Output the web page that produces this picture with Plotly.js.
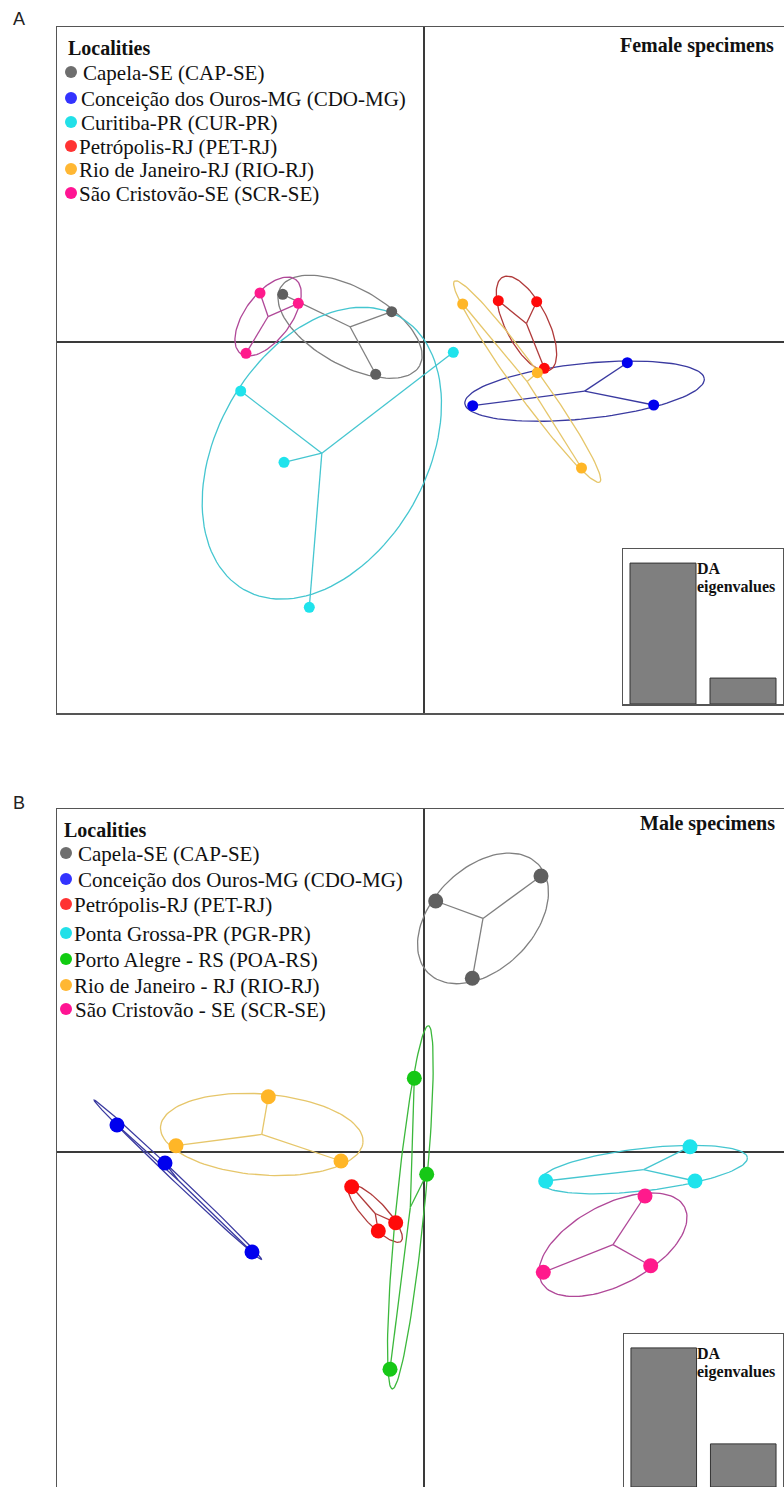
<!DOCTYPE html>
<html>
<head>
<meta charset="utf-8">
<script src="https://cdn.plot.ly/plotly-3.0.1.min.js"></script>
<style>html,body{margin:0;padding:0;background:#fff;}#chart{width:784px;height:1487px;}</style>
</head>
<body>
<div id="chart"></div>
<script>
// ---------------- Panel A: female specimens (DA scores: LD1, LD2) ----------------
const femaleGroups = ["CAP-SE", "CDO-MG", "CUR-PR", "PET-RJ", "RIO-RJ", "SCR-SE"];
const femaleLegend = ["Capela-SE (CAP-SE)", "Conceição dos Ouros-MG (CDO-MG)", "Curitiba-PR (CUR-PR)",
                      "Petrópolis-RJ (PET-RJ)", "Rio de Janeiro-RJ (RIO-RJ)", "São Cristovão-SE (SCR-SE)"];
const fCAP_x = [-1.413, -0.323, -0.483];          const fCAP_y = [0.477, 0.303, -0.323];
const fCDO_x = [0.487, 2.033, 2.297];             const fCDO_y = [-0.637, -0.207, -0.630];
const fCUR_x = [-1.833, -1.400, -1.147, 0.293];   const fCUR_y = [-0.490, -1.203, -2.653, -0.103];
const fPET_x = [0.743, 1.127, 1.203];             const fPET_y = [0.413, 0.403, -0.263];
const fRIO_x = [0.387, 1.133, 1.575];             const fRIO_y = [0.380, -0.307, -1.260];
const fSCR_x = [-1.640, -1.257, -1.780];          const fSCR_y = [0.490, 0.387, -0.113];
const femaleEigen = [1.0, 0.184];

// ---------------- Panel B: male specimens ----------------
const maleGroups = ["CAP-SE", "CDO-MG", "PET-RJ", "PGR-PR", "POA-RS", "RIO-RJ", "SCR-SE"];
const maleLegend = ["Capela-SE (CAP-SE)", "Conceição dos Ouros-MG (CDO-MG)", "Petrópolis-RJ (PET-RJ)",
                    "Ponta Grossa-PR (PGR-PR)", "Porto Alegre - RS (POA-RS)", "Rio de Janeiro - RJ (RIO-RJ)",
                    "São Cristovão - SE (SCR-SE)"];
const mCAP_x = [0.117, 1.170, 0.483];     const mCAP_y = [2.510, 2.760, 1.737];
const mCDO_x = [-3.070, -2.590, -1.720];  const mCDO_y = [0.270, -0.110, -1.000];
const mPET_x = [-0.723, -0.457, -0.283];  const mPET_y = [-0.347, -0.790, -0.707];
const mPGR_x = [2.660, 1.217, 2.710];     const mPGR_y = [0.053, -0.290, -0.290];
const mPOA_x = [-0.097, 0.027, -0.340];   const mPOA_y = [0.737, -0.223, -2.173];
const mRIO_x = [-1.557, -2.480, -0.830];  const mRIO_y = [0.553, 0.063, -0.090];
const mSCR_x = [2.210, 1.193, 2.267];     const mSCR_y = [-0.440, -1.203, -1.137];
const maleEigen = [1.0, 0.31];
const eigenLabels = ["DA1", "DA2"];

// ---------------- colours ----------------
const col = {
  "CAP-SE": {pt: "#5f5f5f", ln: "#808080", lg: "#6e6e6e"},
  "CDO-MG": {pt: "#0000ee", ln: "#3a3aa0", lg: "#3333ff"},
  "CUR-PR": {pt: "#1fe3ec", ln: "#45c6d0", lg: "#22e0e8"},
  "PGR-PR": {pt: "#1fe3ec", ln: "#45c6d0", lg: "#22e0e8"},
  "PET-RJ": {pt: "#ff0a0a", ln: "#b03a3a", lg: "#ff3333"},
  "RIO-RJ": {pt: "#ffb627", ln: "#e6c66a", lg: "#ffb733"},
  "SCR-SE": {pt: "#ff1a8c", ln: "#b04898", lg: "#ff1493"},
  "POA-RS": {pt: "#16c816", ln: "#3cb83c", lg: "#11cc11"}
};

const femaleData = [[fCAP_x, fCAP_y], [fCDO_x, fCDO_y], [fCUR_x, fCUR_y], [fPET_x, fPET_y], [fRIO_x, fRIO_y], [fSCR_x, fSCR_y]];
const maleData = [[mCAP_x, mCAP_y], [mCDO_x, mCDO_y], [mPET_x, mPET_y], [mPGR_x, mPGR_y], [mPOA_x, mPOA_y], [mRIO_x, mRIO_y], [mSCR_x, mSCR_y]];

function mean(a) { return a.reduce((s, v) => s + v, 0) / a.length; }

// inertia ellipse as in ade4::s.class (cellipse = 1.5)
function ellipse(xs, ys, coef) {
  const n = xs.length, mx = mean(xs), my = mean(ys);
  let vx = 0, vy = 0, cxy = 0;
  for (let i = 0; i < n; i++) {
    const dx = xs[i] - mx, dy = ys[i] - my;
    vx += dx * dx / n; vy += dy * dy / n; cxy += dx * dy / n;
  }
  const tr = vx + vy, det = vx * vy - cxy * cxy;
  const disc = Math.sqrt(Math.max(tr * tr / 4 - det, 0));
  const l1 = tr / 2 + disc, l2 = Math.max(tr / 2 - disc, 0);
  let ex, ey;
  if (Math.abs(cxy) > 1e-12) { ex = l1 - vy; ey = cxy; }
  else if (vx >= vy) { ex = 1; ey = 0; } else { ex = 0; ey = 1; }
  const nr = Math.hypot(ex, ey); ex /= nr; ey /= nr;
  const a = coef * Math.sqrt(l1), b = coef * Math.sqrt(l2);
  const X = [], Y = [];
  for (let k = 0; k <= 120; k++) {
    const t = 2 * Math.PI * k / 120, c = Math.cos(t), s = Math.sin(t);
    X.push(mx + a * c * ex - b * s * ey);
    Y.push(my + a * c * ey + b * s * ex);
  }
  return {X, Y};
}

function panelTraces(groups, data, xa, ya, msize) {
  const lines = [], pts = [];
  groups.forEach((g, i) => {
    const xs = data[i][0], ys = data[i][1];
    const e = ellipse(xs, ys, 1.5);
    lines.push({x: e.X, y: e.Y, xaxis: xa, yaxis: ya, mode: "lines", type: "scatter",
      line: {color: col[g].ln, width: 1.3}, hoverinfo: "skip", showlegend: false});
    const mx = mean(xs), my = mean(ys), sx = [], sy = [];
    xs.forEach((x, j) => { sx.push(mx, x, null); sy.push(my, ys[j], null); });
    lines.push({x: sx, y: sy, xaxis: xa, yaxis: ya, mode: "lines", type: "scatter",
      line: {color: col[g].ln, width: 1.3}, hoverinfo: "skip", showlegend: false});
    pts.push({x: xs, y: ys, xaxis: xa, yaxis: ya, mode: "markers", type: "scatter", name: g,
      marker: {color: col[g].pt, size: msize, line: {width: 0}}, showlegend: false});
  });
  return lines.concat(pts);
}

const traces = []
  .concat(panelTraces(femaleGroups, femaleData, "x", "y", 11))
  .concat(panelTraces(maleGroups, maleData, "x2", "y2", 15));

traces.push({type: "bar", x: eigenLabels, y: femaleEigen, xaxis: "x3", yaxis: "y3", width: 0.825,
  marker: {color: "#7f7f7f", line: {color: "#333", width: 1}}, hoverinfo: "skip", showlegend: false});
traces.push({type: "bar", x: eigenLabels, y: maleEigen, xaxis: "x4", yaxis: "y4", width: 0.825,
  marker: {color: "#7f7f7f", line: {color: "#333", width: 1}}, hoverinfo: "skip", showlegend: false});

const W = 784, H = 1487;
const px = v => v / W, py = v => 1 - v / H;

const mainAxis = {showgrid: false, zeroline: true, zerolinecolor: "#3a3a3a", zerolinewidth: 1.5,
  showticklabels: false, ticks: "", showline: true, linecolor: "#555", linewidth: 1.5, fixedrange: true};

const serif = "Liberation Serif";
const sans = "Liberation Sans";
const annotations = [];
function txt(t, x, y, size, opts) {
  annotations.push(Object.assign({text: t, x: px(x), y: py(y), xref: "paper", yref: "paper",
    showarrow: false, xanchor: "left", yanchor: "middle",
    font: {family: serif, size: size, color: "#111"}}, opts || {}));
}
const shapes = [];
function dot(cx, cy, d, c) {
  shapes.push({type: "circle", xref: "paper", yref: "paper", x0: px(cx - d / 2), x1: px(cx + d / 2),
    y0: py(cy + d / 2), y1: py(cy - d / 2), fillcolor: c, line: {width: 0}});
}

// Panel labels
txt("A", 11, 19, 18, {font: {family: sans, size: 18, color: "#222"}});
txt("B", 11, 803, 18, {font: {family: sans, size: 18, color: "#222"}});

// Legend A
txt("<b>Localities</b>", 66, 48, 20);
const legA_y = [72, 98, 122, 146, 169, 193];
const legA_tx = [82, 80, 80, 78, 78, 78];
femaleGroups.forEach((g, i) => {
  dot(71, legA_y[i], 12, col[g].lg);
  txt(femaleLegend[i], legA_tx[i] - 1, legA_y[i] + 1, 21);
});
txt("<b>Female specimens</b>", 776, 45, 20, {xanchor: "right"});

// Legend B
txt("<b>Localities</b>", 62, 830, 20);
const legB_y = [853, 879, 904, 933, 959, 985, 1009];
const legB_tx = [77, 77, 73, 73, 73, 73, 74];
maleGroups.forEach((g, i) => {
  dot(66, legB_y[i], 12, col[g].lg);
  txt(maleLegend[i], legB_tx[i] - 1, legB_y[i] + 1, 21);
});
txt("<b>Male specimens</b>", 777, 823, 20, {xanchor: "right"});

// Inset labels
txt("<b>DA</b>", 695, 568, 16);
txt("<b>eigenvalues</b>", 695, 587, 16);
txt("<b>DA</b>", 695, 1353, 16);
txt("<b>eigenvalues</b>", 695, 1372, 16);

const insetAxis = {showgrid: false, zeroline: false, showticklabels: false, ticks: "",
  showline: true, mirror: true, linecolor: "#555", linewidth: 1.5, fixedrange: true};

const layout = {
  width: W, height: H, margin: {l: 0, r: 0, t: 0, b: 0},
  paper_bgcolor: "#fff", plot_bgcolor: "rgba(0,0,0,0)", showlegend: false,
  font: {family: serif},
  xaxis: Object.assign({}, mainAxis, {domain: [px(57), 1], range: [-3.67, 3.60], mirror: true, anchor: "y"}),
  yaxis: Object.assign({}, mainAxis, {domain: [py(713), py(27)], range: [-3.71, 3.15], anchor: "x"}),
  xaxis2: Object.assign({}, mainAxis, {domain: [px(57), 1], range: [-3.67, 3.60], mirror: true, anchor: "y2"}),
  yaxis2: Object.assign({}, mainAxis, {domain: [0, py(809)], range: [-3.35, 3.43], anchor: "x2"}),
  xaxis3: Object.assign({}, insetAxis, {domain: [px(623), px(783)], range: [-0.5, 1.5], anchor: "y3", type: "category"}),
  yaxis3: Object.assign({}, insetAxis, {domain: [py(704), py(549)], range: [0, 1.1], anchor: "x3"}),
  xaxis4: Object.assign({}, insetAxis, {domain: [px(624), px(783)], range: [-0.5, 1.5], anchor: "y4", type: "category"}),
  yaxis4: Object.assign({}, insetAxis, {domain: [0, py(1334)], range: [0, 1.1], anchor: "x4"}),
  annotations: annotations,
  shapes: shapes
};

Plotly.newPlot("chart", traces, layout, {staticPlot: true, displayModeBar: false});
</script>
</body>
</html>
